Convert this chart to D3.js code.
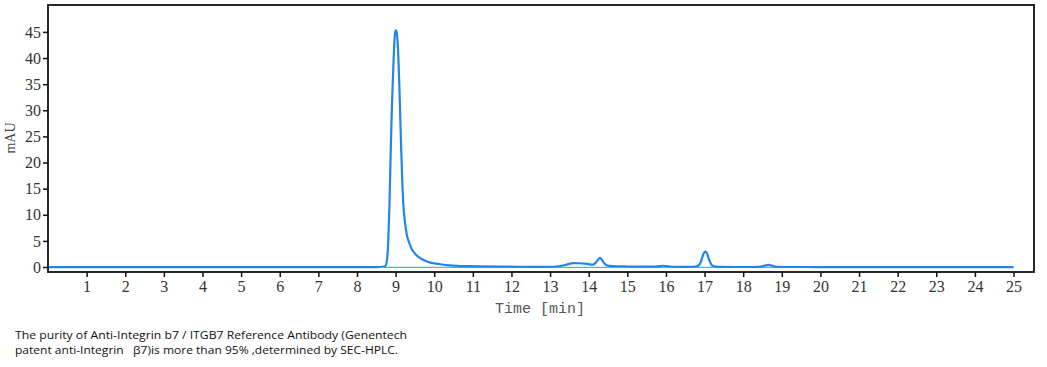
<!DOCTYPE html>
<html><head><meta charset="utf-8">
<script src="https://cdn.jsdelivr.net/npm/d3@7"></script>
<style>body{margin:0;background:#fff}svg{display:block}</style>
</head><body>
<svg id="c" width="1047" height="367"></svg>
<script>
// retention time (min) and absorbance (mAU)
const times = [0, 8.5, 8.65, 8.73, 8.78, 8.81, 8.84, 8.87, 8.9, 8.925, 8.95, 8.97, 8.99, 9.01, 9.03, 9.055, 9.08, 9.1, 9.125, 9.15, 9.175, 9.2, 9.25, 9.29, 9.35, 9.42, 9.5, 9.6, 9.7, 9.8, 9.9, 10.0, 10.2, 10.4, 10.6, 10.85, 11.2, 11.7, 12.2, 12.6, 13.0, 13.15, 13.3, 13.45, 13.6, 13.75, 13.9, 14.0, 14.1, 14.18, 14.24, 14.29, 14.34, 14.4, 14.46, 14.55, 14.7, 15.0, 15.4, 15.7, 15.85, 15.93, 16.02, 16.15, 16.4, 16.7, 16.8, 16.88, 16.94, 16.98, 17.02, 17.06, 17.1, 17.15, 17.2, 17.3, 17.45, 17.8, 18.2, 18.4, 18.52, 18.65, 18.78, 18.9, 19.1, 20, 22, 25];
const mAU   = [0, 0, 0.05, 0.15, 1.5, 5.0, 11.5, 21.0, 29.5, 35.0, 40.0, 43.2, 45.0, 45.3, 44.8, 42.8, 38.5, 34.0, 27.5, 21.5, 16.0, 12.0, 8.2, 6.2, 4.7, 3.4, 2.6, 1.9, 1.45, 1.1, 0.85, 0.7, 0.48, 0.33, 0.24, 0.18, 0.12, 0.08, 0.05, 0.04, 0.05, 0.1, 0.25, 0.52, 0.74, 0.72, 0.65, 0.55, 0.47, 0.8, 1.4, 1.75, 1.4, 0.72, 0.36, 0.22, 0.15, 0.1, 0.07, 0.08, 0.16, 0.25, 0.16, 0.05, 0.02, 0.03, 0.12, 0.6, 1.8, 2.65, 2.95, 2.65, 1.8, 0.8, 0.3, 0.08, 0.02, 0.01, 0.01, 0.03, 0.16, 0.42, 0.18, 0.04, 0.01, 0, 0, 0];
const xTicks = [1,2,3,4,5,6,7,8,9,10,11,12,13,14,15,16,17,18,19,20,21,22,23,24,25];
const yTicks = [0,5,10,15,20,25,30,35,40,45];
const xTitle = "Time [min]";
const yTitle = "mAU";
const caption = ["The purity of Anti-Integrin b7 / ITGB7 Reference Antibody (Genentech",
                 "patent anti-Integrin   \u03b27)is more than 95% ,determined by SEC-HPLC."];

const svg = d3.select("#c");
const L = 48, R = 1034, T = 5, B = 272;
const x = d3.scaleLinear().domain([0, 25.53]).range([L, R]);
const y = d3.scaleLinear().domain([-0.95, 50.15]).range([B, T]);

// integration baseline
svg.append("line").attr("x1", x(8.7)).attr("x2", x(25)).attr("y1", y(-0.05)).attr("y2", y(-0.05))
  .attr("stroke", "#3d8fe0").attr("stroke-width", 1);

const data = times.map((t, i) => [t, mAU[i]]);
svg.append("path").datum(data)
  .attr("fill", "none").attr("stroke", "#2386e6").attr("stroke-width", 2.2)
  .attr("stroke-linejoin", "round")
  .attr("d", d3.line().x(d => x(d[0])).y(d => y(d[1])).curve(d3.curveMonotoneX));

// frame
svg.append("rect").attr("x", L).attr("y", T).attr("width", R - L).attr("height", B - T)
  .attr("fill", "none").attr("stroke", "#111").attr("stroke-width", 1.8);

const xa = svg.append("g").attr("transform", `translate(0,${B})`)
  .call(d3.axisBottom(x).tickValues(xTicks).tickSize(5).tickSizeOuter(0).tickPadding(4));
xa.select(".domain").remove();
xa.selectAll("line").attr("stroke", "#111").attr("stroke-width", 1.5);
xa.selectAll("text").attr("font-family", "'Liberation Serif',serif").attr("font-size", 16).attr("fill", "#333");

const ya = svg.append("g").attr("transform", `translate(${L},0)`)
  .call(d3.axisLeft(y).tickValues(yTicks).tickSize(5).tickSizeOuter(0).tickPadding(2));
ya.select(".domain").remove();
ya.selectAll("line").attr("stroke", "#111").attr("stroke-width", 1.5);
ya.selectAll("text").attr("font-family", "'Liberation Serif',serif").attr("font-size", 16).attr("fill", "#333");

svg.append("text").attr("x", 540).attr("y", 313).attr("text-anchor", "middle")
  .attr("font-family", "'Liberation Mono',monospace").attr("font-size", 15).attr("fill", "#555")
  .text(xTitle);
svg.append("text").attr("transform", "translate(15,138) rotate(-90)").attr("text-anchor", "middle")
  .attr("font-family", "'Liberation Serif',serif").attr("font-size", 14).attr("fill", "#444")
  .text(yTitle);

svg.append("text").attr("x", 15).attr("y", 339)
  .attr("font-family", "'Open Sans',sans-serif").attr("font-size", 11.5).attr("fill", "#111")
  .attr("textLength", 392).attr("lengthAdjust", "spacingAndGlyphs").text(caption[0]);
svg.append("text").attr("x", 15).attr("y", 354).attr("xml:space", "preserve").style("white-space", "pre")
  .attr("font-family", "'Open Sans',sans-serif").attr("font-size", 11.5).attr("fill", "#111")
  .attr("textLength", 383).attr("lengthAdjust", "spacingAndGlyphs").text(caption[1]);
</script>
</body></html>
